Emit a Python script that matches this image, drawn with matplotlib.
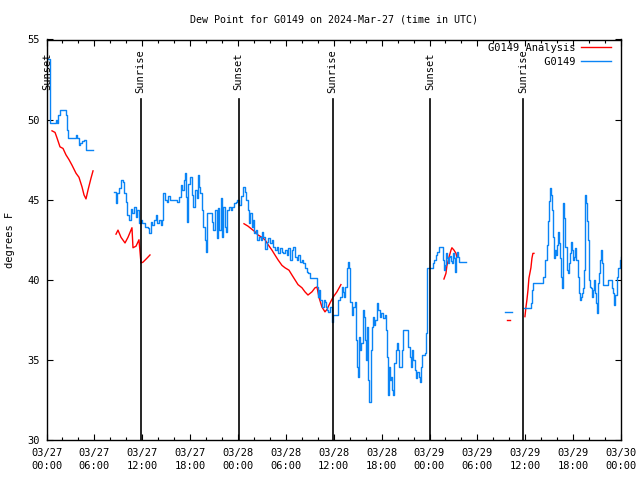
import numpy as np
import matplotlib
matplotlib.use("Agg")
import matplotlib.pyplot as plt
import matplotlib.dates as mdates

nan = float("nan")

# hours since 2024-03-27 00:00 UTC
blue_hours = [0.0, 0.38, 1.19, 1.32, 1.5, 1.69, 2.44, 2.57, 2.69, 3.7, 3.88, 4.07, 4.26, 4.45, 4.7, 4.95, 5.83, nan,
    8.46, 8.71, 8.83, 9.09, 9.34, 9.59, 9.71, 9.96, 10.09, 10.34, 10.59, 10.71, 10.96, 11.22, 11.34, 11.59, 11.84, 11.97,
    12.34, 12.72, 12.84, 13.1, 13.22, 13.47, 13.72, 13.85, 14.1, 14.35, 14.47, 14.6, 14.85, 15.1, 15.23, 15.48, 16.35,
    16.6, 16.85, 16.98, 17.23, 17.36, 17.48, 17.61, 17.73, 17.98, 18.23, 18.36, 18.61, 18.86, 18.98, 19.11, 19.24, 19.49,
    19.61, 19.86, 19.99, 20.11, 20.74, 20.86, 21.11, 21.36, 21.49, 21.61, 21.87, 21.99, 22.12, 22.37, 22.49, 22.62, 22.87,
    23.12, 23.25, 23.5, 23.75, 23.87, 24.12, 24.37, 24.62, 24.87, 25.0, 25.25, 25.38, 25.5, 25.75, 25.88, 26.0, 26.25,
    26.38, 26.63, 26.88, 27.0, 27.13, 27.38, 27.63, 27.76, 28.01, 28.26, 28.38, 28.63, 28.88, 29.01, 29.26, 29.51, 29.64,
    29.89, 30.14, 30.26, 30.51, 30.76, 30.89, 31.14, 31.39, 31.52, 31.77, 32.02, 32.14, 32.39, 32.64, 32.77, 33.02, 33.9,
    34.02, 34.15, 34.27, 34.52, 34.77, 34.9, 35.0, 35.15, 35.28, 35.53, 35.78, 35.9, 36.53, 36.78, 37.03, 37.15, 37.28,
    37.4, 37.66, 37.78, 37.91, 38.03, 38.28, 38.41, 38.66, 38.78, 38.91, 39.03, 39.16, 39.29, 39.41, 39.66, 39.79, 39.91,
    40.04, 40.16, 40.29, 40.41, 40.66, 40.79, 40.91, 41.04, 41.17, 41.42, 41.54, 41.79, 41.92, 42.17, 42.42, 42.54, 42.67,
    42.79, 42.92, 43.05, 43.17, 43.3, 43.42, 43.55, 43.8, 43.92, 44.05, 44.17, 44.55, 44.67, 45.3, 45.55, 45.68, 45.8,
    45.93, 46.18, 46.3, 46.43, 46.68, 46.8, 46.93, 47.05, 47.43, 47.56, 47.68, 48.43, 48.56, 48.81, 48.93, 49.19, 49.69,
    49.81, 49.94, 50.06, 50.19, 50.31, 50.44, 50.56, 50.69, 50.81, 50.94, 51.07, 51.19, 51.32, 51.44, 51.57, 51.69, 52.57, nan,
    57.46, 58.33, nan,
    59.84, 60.71, 60.84, 60.96, 62.22, 62.47, 62.72, 62.84, 62.97, 63.1, 63.22, 63.35, 63.47, 63.6, 63.72, 63.85, 63.97,
    64.1, 64.22, 64.35, 64.47, 64.6, 64.72, 64.85, 64.97, 65.22, 65.35, 65.48, 65.6, 65.73, 65.85, 65.98, 66.1, 66.23,
    66.35, 66.6, 66.73, 66.85, 66.98, 67.1, 67.23, 67.36, 67.48, 67.61, 67.73, 67.86, 67.98, 68.11, 68.23, 68.36, 68.48,
    68.61, 68.73, 68.86, 68.98, 69.11, 69.24, 69.36, 69.49, 69.61, 69.74, 70.36, 70.86, 70.99, 71.11, 71.24, 71.49, 71.62,
    71.87, 72.0]
blue_dewpt = [53.8, 49.8, 50.0, 49.8, 50.3, 50.6, 50.3, 49.35, 48.85, 49.05, 48.85, 48.4, 48.55, 48.65, 48.7, 48.1, 48.1, nan,
    45.5, 44.8, 45.4, 45.7, 46.2, 46.1, 45.4, 44.85, 44.05, 43.75, 44.4, 44.2, 44.55, 43.9, 44.35, 43.55, 43.75, 43.55,
    43.3, 43.25, 42.9, 43.6, 43.4, 43.75, 44.05, 43.55, 43.75, 43.4, 43.75, 45.4, 45.0, 44.85, 45.2, 45.0, 44.85,
    45.15, 45.9, 45.6, 46.25, 46.65, 45.15, 43.6, 46.0, 46.4, 45.3, 44.55, 45.6, 45.1, 46.55, 45.8, 45.4, 44.35,
    43.3, 42.5, 41.75, 44.2, 43.6, 43.1, 44.35, 42.6, 44.5, 43.1, 45.1, 42.7, 44.55, 43.3, 43.0, 44.35, 44.55,
    44.35, 44.55, 44.8, 44.85, 45.0, 44.7, 45.2, 45.8, 45.5, 45.0, 44.35, 43.55, 44.2, 43.3, 43.75, 42.9, 43.1,
    42.5, 42.7, 42.5, 43.0, 42.7, 41.9, 42.35, 42.6, 42.3, 42.5, 42.05, 41.85, 42.05, 41.7, 42.0, 41.75, 41.7,
    41.85, 41.55, 42.0, 41.25, 41.85, 42.05, 41.4, 41.25, 41.55, 41.1, 41.25, 41.05, 40.75, 40.5, 40.45, 40.1, 39.55,
    38.9, 39.35, 38.75, 38.3, 38.75, 38.6, 38.3, 38.1, 38.0, 38.3, 37.35, 37.8, 38.75, 38.9, 39.55, 39.25, 38.9,
    39.55, 40.75, 41.1, 40.75, 38.6, 37.8, 38.3, 38.6, 36.25, 34.55, 33.95, 36.45, 35.6, 36.05, 38.1, 37.7, 36.25,
    35.0, 37.05, 33.75, 32.4, 35.6, 37.05, 37.7, 37.2, 37.5, 38.55, 38.1, 37.7, 37.9, 37.6, 37.8, 36.85, 35.15,
    32.8, 34.55, 33.75, 33.95, 33.1, 32.8, 34.8, 35.6, 36.05, 35.6, 34.55, 35.6, 36.85, 35.8, 35.2, 34.55, 35.6,
    35.0, 34.35, 33.85, 34.25, 33.95, 33.6, 34.55, 35.3, 35.45, 36.7, 40.75, 41.05, 41.25, 41.55, 41.75, 42.05, 41.25,
    40.6, 40.9, 41.65, 41.35, 41.05, 41.4, 41.5, 41.2, 41.05, 41.65, 41.35, 40.5, 41.4, 41.75, 41.4, 41.1, 41.1, nan,
    38.0, 38.0, nan,
    38.25, 38.55, 39.35, 39.8, 40.15, 41.25, 42.15, 43.7, 44.95, 45.7, 45.3, 44.35, 42.65, 41.35, 41.85, 41.55, 42.15,
    43.0, 42.3, 41.35, 40.15, 39.5, 44.8, 43.85, 42.05, 40.6, 40.45, 41.05, 41.7, 42.35, 41.85, 41.25, 41.45, 42.0,
    41.25, 40.15, 39.2, 38.75, 38.9, 39.2, 39.5, 40.6, 45.3, 44.8, 43.7, 42.5, 40.0, 39.55, 39.5, 38.9, 39.35,
    40.0, 39.2, 38.55, 37.95, 39.8, 40.4, 41.25, 41.85, 41.05, 39.7, 40.0, 39.5, 39.2, 38.45, 39.05, 40.15, 40.75,
    41.25, 41.4]

red_hours = [0.69, 1.07, 1.32, 1.69, 2.07, 2.44, 2.82, 3.2, 3.7, 4.07, 4.45, 4.7, 4.95, 5.2, 5.58, 5.83, nan,
    8.71, 8.96, 9.34, 9.84, 10.21, 10.71, 10.84, 11.22, 11.59, 11.84, 12.09, 12.59, 12.97, nan,
    24.75, 25.25, 25.75, 26.13, 26.5, 27.0, 27.38, 27.76, 28.26, 28.63, 29.01, 29.51, 29.89, 30.39, 30.76, 31.14,
    31.52, 32.02, 32.39, 32.77, 33.27, 33.65, 33.9, 34.15, 34.52, 34.9, 35.15, 35.53, 35.9, 36.4, 36.9, nan,
    49.81, 50.06, 50.19, 50.44, 50.69, 50.81, 51.07, 51.32, 51.44, nan,
    57.71, 58.08, nan,
    59.96, 60.09, 60.21, 60.34, 60.46, 60.71, 60.84, 60.96, 61.09]
red_dewpt = [49.3, 49.2, 48.85, 48.3, 48.2, 47.8, 47.5, 47.15, 46.65, 46.4, 45.8, 45.3, 45.05, 45.6, 46.35, 46.8, nan,
    42.85, 43.1, 42.65, 42.3, 42.65, 43.25, 42.0, 42.1, 42.5, 41.05, 41.1, 41.35, 41.55, nan,
    43.5, 43.35, 43.15, 43.0, 42.8, 42.65, 42.5, 42.2, 41.85, 41.55, 41.25, 40.9, 40.75, 40.6, 40.3, 40.0,
    39.7, 39.5, 39.25, 39.05, 39.25, 39.5, 39.55, 38.9, 38.3, 38.0, 38.15, 38.55, 38.9, 39.25, 39.7, nan,
    40.05, 40.4, 40.9, 41.4, 41.85, 42.0, 41.85, 41.65, 41.4, nan,
    37.5, 37.5, nan,
    37.7, 38.3, 38.75, 39.35, 40.1, 40.75, 41.35, 41.65, 41.65]

event_names = ["Sunset", "Sunrise", "Sunset", "Sunrise", "Sunset", "Sunrise"]
event_hours = [0.05, 11.8, 24.08, 35.85, 48.12, 59.77]

start = np.datetime64("2024-03-27T00:00")
end = np.datetime64("2024-03-30T00:00")

def to_time(h):
    return start + (np.asarray(h, dtype=float) * 3600).astype("timedelta64[s]")

def segments(hours, vals):
    h = np.array(hours, dtype=float)
    v = np.array(vals, dtype=float)
    brk = np.where(np.isnan(h))[0]
    idx = np.split(np.arange(len(h)), brk)
    out = []
    for ii in idx:
        ii = ii[~np.isnan(h[ii])]
        if len(ii):
            out.append((to_time(h[ii]), v[ii]))
    return out

FONT = "DejaVu Sans Mono"
plt.rcParams["font.family"] = FONT
plt.rcParams["font.size"] = 7

fig = plt.figure(figsize=(6.4, 4.8), dpi=100)
L, R, T, B = 46.5, 621, 39.5, 440
ax = fig.add_axes([L / 640, 1 - B / 480, (R - L) / 640, (B - T) / 480])

red_c = "#ff0000"
blue_c = "#0a84f5"

for i, (t, v) in enumerate(segments(red_hours, red_dewpt)):
    ax.plot(t, v, color=red_c, lw=1.0, label="G0149 Analysis" if i == 0 else None)
for i, (t, v) in enumerate(segments(blue_hours, blue_dewpt)):
    ax.plot(t, v, color=blue_c, lw=1.0, drawstyle="steps-post",
            label="         G0149" if i == 0 else None)

trans = ax.get_xaxis_transform()
for name, h in zip(event_names, event_hours):
    t = to_time(h)
    ax.axvline(t, ymin=0, ymax=0.852, color="black", lw=1.2)
    ax.text(t, 0.921, name, rotation=90, ha="center", va="center", transform=trans, fontsize=7.5)

ax.set_xlim(start, end)
ax.set_ylim(30, 55)
ax.set_yticks([30, 35, 40, 45, 50, 55])
ax.xaxis.set_major_locator(mdates.HourLocator(byhour=[0, 6, 12, 18]))
ax.xaxis.set_minor_locator(mdates.HourLocator(byhour=range(0, 24, 2)))
ax.xaxis.set_major_formatter(mdates.DateFormatter("%m/%d\n%H:%M"))
ax.tick_params(axis="both", which="both", direction="in", top=True, right=True, labelsize=7.5)
ax.tick_params(axis="both", which="major", length=4.5, width=0.8)
ax.tick_params(axis="x", which="minor", length=2.2, width=0.8)
ax.tick_params(axis="x", which="major", pad=5.5)
ax.tick_params(axis="y", which="major", pad=4.5)
for lab in ax.get_xticklabels():
    lab.set_linespacing(1.45)
for s in ax.spines.values():
    s.set_linewidth(1.0)

ax.set_title("Dew Point for G0149 on 2024-Mar-27 (time in UTC)", fontsize=7.2, pad=12.5)
fig.text(10 / 640, 0.5, "degrees F", rotation=90, ha="center", va="center", fontsize=7.5)

leg = ax.legend(loc="upper right", frameon=False, markerfirst=False, fontsize=7.5,
                handlelength=2.9, handletextpad=0.55, labelspacing=0.35,
                borderaxespad=0, borderpad=0.35, bbox_to_anchor=(1 - 6 / 575, 1.0))

fig.savefig("out.png", dpi=100)
